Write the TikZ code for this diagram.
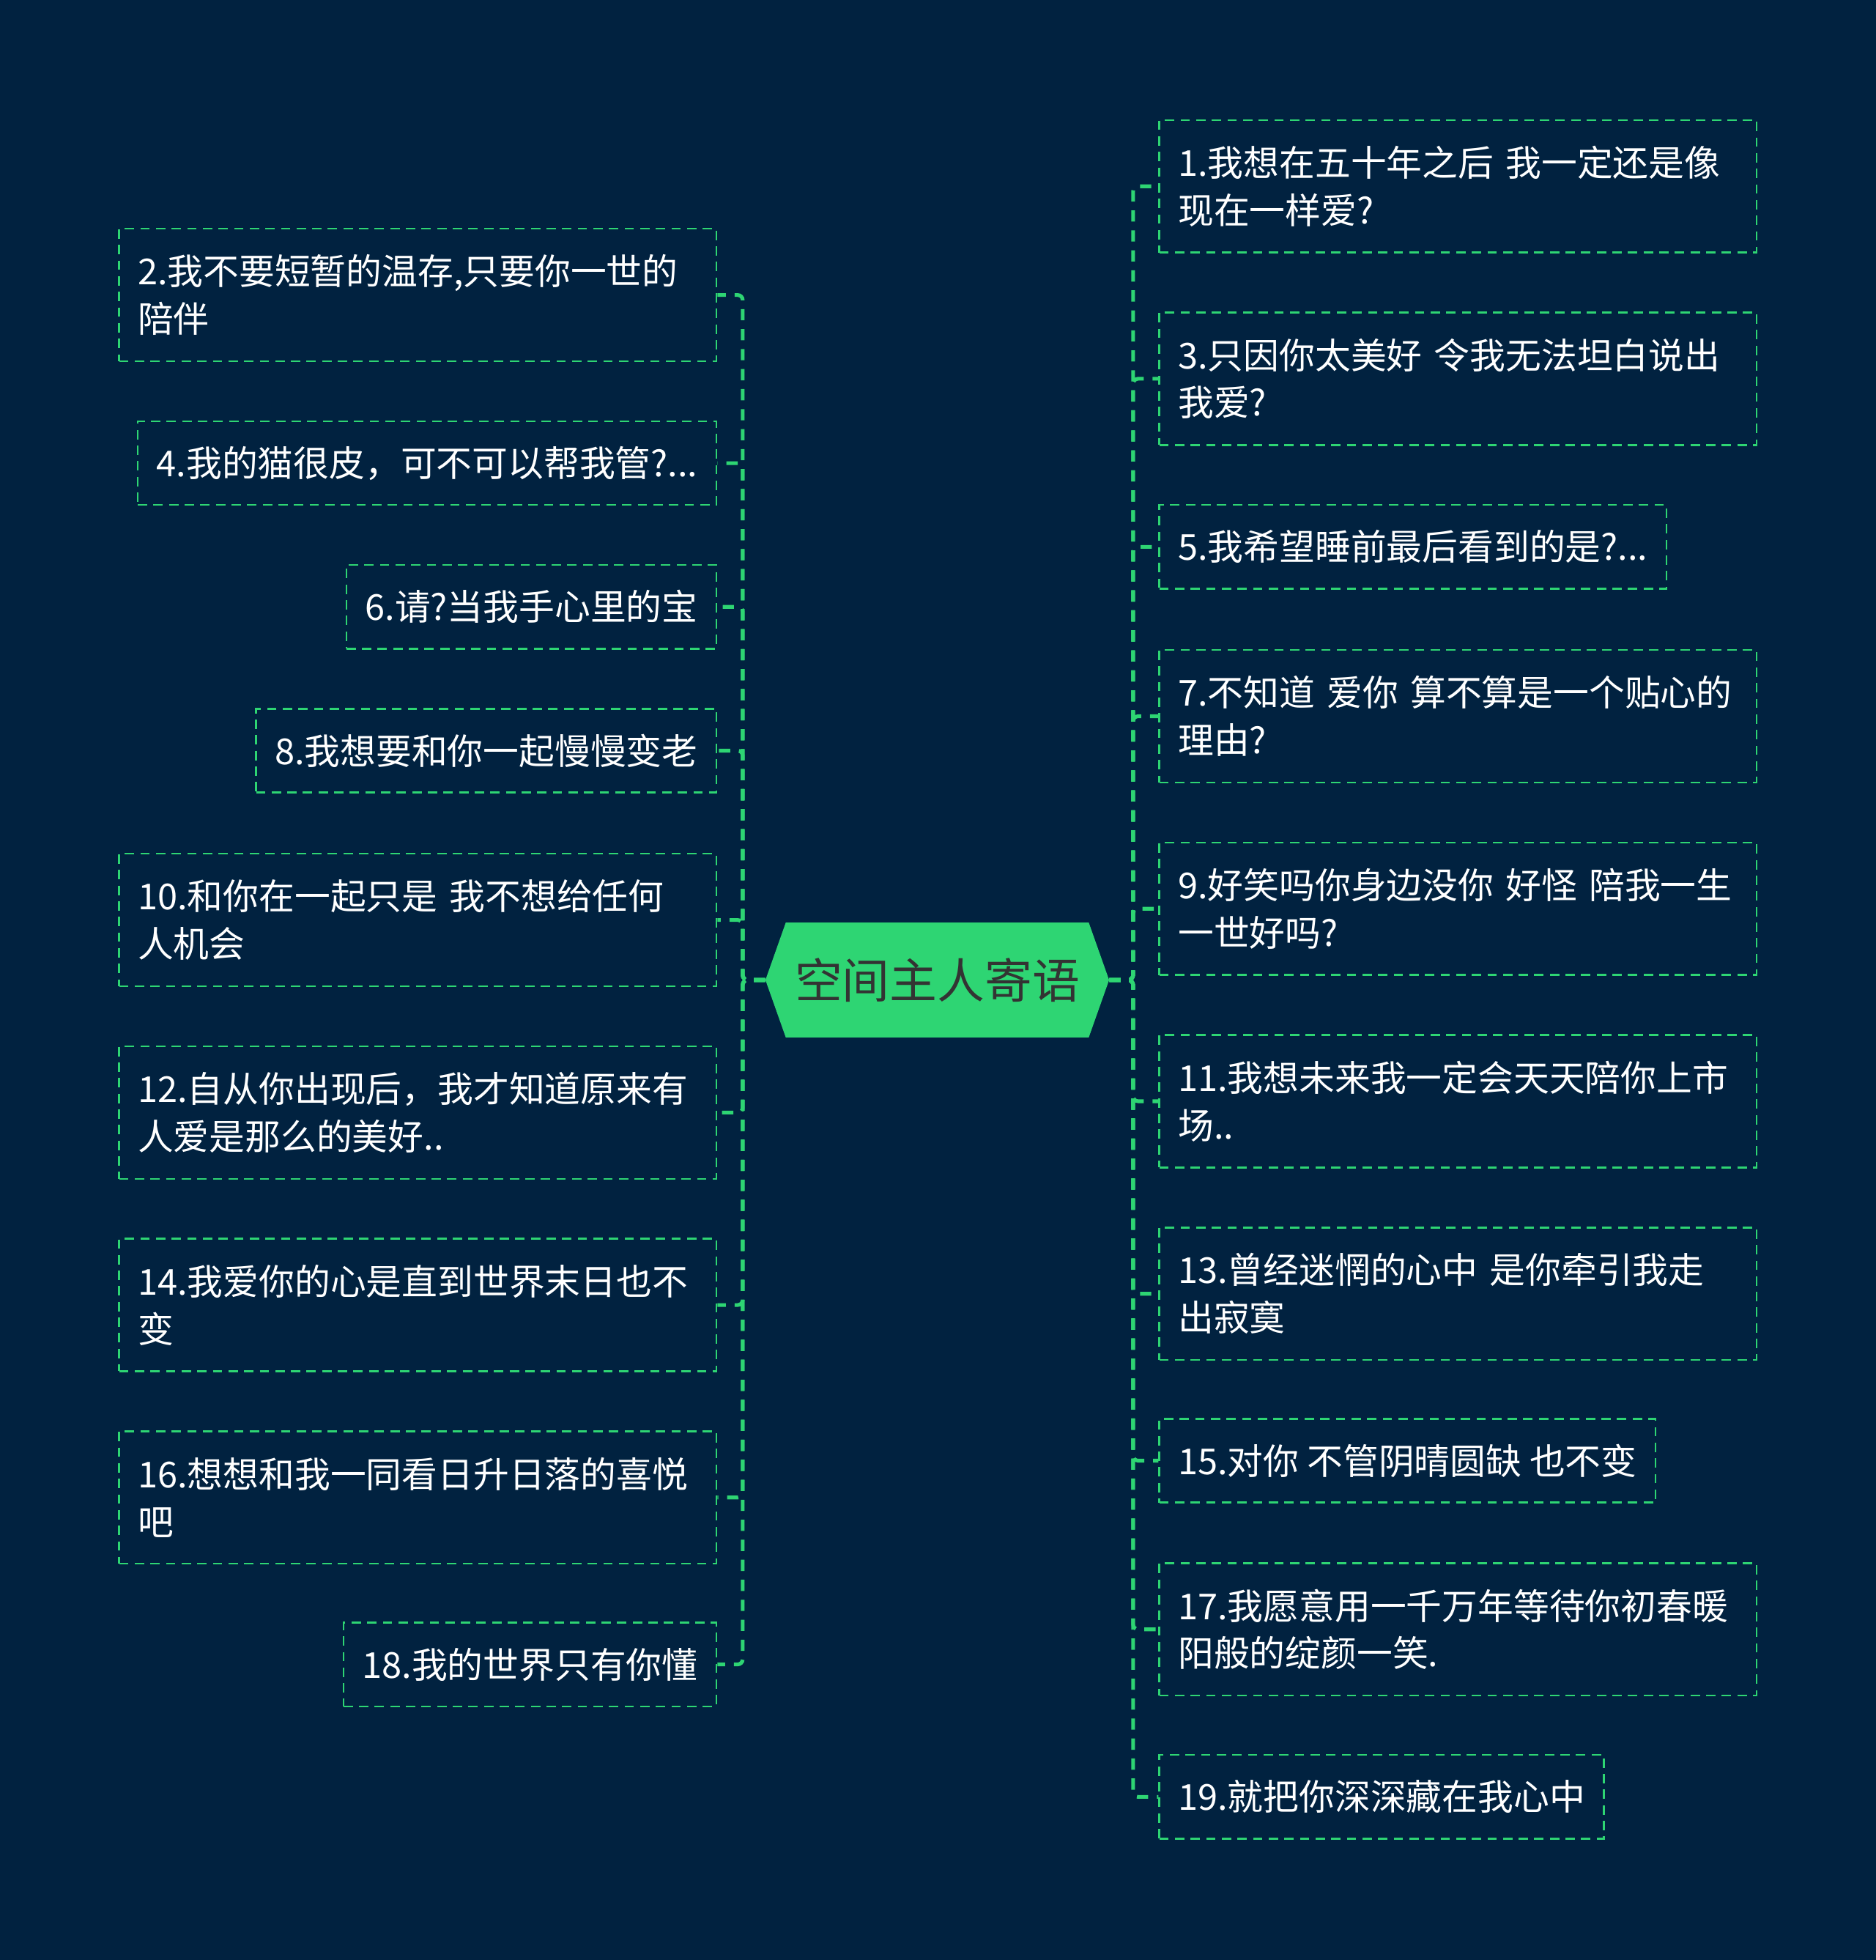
\documentclass[tikz,border=0pt]{standalone}
\usepackage{fontspec}
\setmainfont{Noto Sans CJK SC}
\usetikzlibrary{shapes.symbols}
\definecolor{bgnavy}{HTML}{012240}
\definecolor{leafgreen}{HTML}{2ED573}
\definecolor{rootink}{HTML}{333333}
\tikzset{
  leaf/.style={draw=leafgreen, line width=1.4pt, dash pattern=on 7.5pt off 5pt,
    text=white, font=\fontsize{28.6}{38}\selectfont, inner xsep=15pt, inner ysep=0pt,
    minimum height=67pt},
  twoline/.style={leaf, text width=448pt, align=left, minimum height=106pt},
  root/.style={signal, signal to=west and east, signal pointer angle=141,
    fill=leafgreen, text=rootink, font=\fontsize{38}{44}\selectfont,
    minimum width=275pt, minimum height=92pt, inner sep=0pt},
  link/.style={draw=leafgreen, line width=3pt, dash pattern=on 9pt off 7pt,
    rounded corners=4pt}
}
\begin{document}
\begin{tikzpicture}[x=1pt, y=-1pt]
    \fill[bgnavy] (0,0) rectangle (1501,1568);
    \useasboundingbox (0,0) rectangle (1501,1568);

    \node[root] (root) at (750,784) {空间主人寄语};

    \node[twoline, anchor=east] (l2) at (574,236) {2.我不要短暂的温存,只要你一世的\\陪伴};
    \node[leaf, anchor=east] (l4) at (574,370.5) {4.我的猫很皮，可不可以帮我管?...};
    \node[leaf, anchor=east] (l6) at (574,485.5) {6.请?当我手心里的宝};
    \node[leaf, anchor=east] (l8) at (574,600.5) {8.我想要和你一起慢慢变老};
    \node[twoline, anchor=east] (l10) at (574,736) {10.和你在一起只是 我不想给任何\\人机会};
    \node[twoline, anchor=east] (l12) at (574,890) {12.自从你出现后，我才知道原来有\\人爱是那么的美好..};
    \node[twoline, anchor=east] (l14) at (574,1044) {14.我爱你的心是直到世界末日也不\\变};
    \node[twoline, anchor=east] (l16) at (574,1198) {16.想想和我一同看日升日落的喜悦\\吧};
    \node[leaf, anchor=east] (l18) at (574,1331.5) {18.我的世界只有你懂};

    \node[twoline, anchor=west] (r1) at (927,149) {1.我想在五十年之后 我一定还是像\\现在一样爱?};
    \node[twoline, anchor=west] (r3) at (927,303) {3.只因你太美好 令我无法坦白说出\\我爱?};
    \node[leaf, anchor=west] (r5) at (927,437.5) {5.我希望睡前最后看到的是?...};
    \node[twoline, anchor=west] (r7) at (927,573) {7.不知道 爱你 算不算是一个贴心的\\理由?};
    \node[twoline, anchor=west] (r9) at (927,727) {9.好笑吗你身边没你 好怪 陪我一生\\一世好吗?};
    \node[twoline, anchor=west] (r11) at (927,881) {11.我想未来我一定会天天陪你上市\\场..};
    \node[twoline, anchor=west] (r13) at (927,1035) {13.曾经迷惘的心中 是你牵引我走\\出寂寞};
    \node[leaf, anchor=west] (r15) at (927,1168.5) {15.对你 不管阴晴圆缺 也不变};
    \node[twoline, anchor=west] (r17) at (927,1303.5) {17.我愿意用一千万年等待你初春暖\\阳般的绽颜一笑.};
    \node[leaf, anchor=west] (r19) at (927,1437.5) {19.就把你深深藏在我心中};

    \draw[link] (root.west) -- ++(-18,0) |- (l2.east);
    \draw[link] (root.west) -- ++(-18,0) |- (l4.east);
    \draw[link] (root.west) -- ++(-18,0) |- (l6.east);
    \draw[link] (root.west) -- ++(-18,0) |- (l8.east);
    \draw[link] (root.west) -- ++(-18,0) |- (l10.east);
    \draw[link] (root.west) -- ++(-18,0) |- (l12.east);
    \draw[link] (root.west) -- ++(-18,0) |- (l14.east);
    \draw[link] (root.west) -- ++(-18,0) |- (l16.east);
    \draw[link] (root.west) -- ++(-18,0) |- (l18.east);

    \draw[link] (root.east) -- ++(19,0) |- (r1.west);
    \draw[link] (root.east) -- ++(19,0) |- (r3.west);
    \draw[link] (root.east) -- ++(19,0) |- (r5.west);
    \draw[link] (root.east) -- ++(19,0) |- (r7.west);
    \draw[link] (root.east) -- ++(19,0) |- (r9.west);
    \draw[link] (root.east) -- ++(19,0) |- (r11.west);
    \draw[link] (root.east) -- ++(19,0) |- (r13.west);
    \draw[link] (root.east) -- ++(19,0) |- (r15.west);
    \draw[link] (root.east) -- ++(19,0) |- (r17.west);
    \draw[link] (root.east) -- ++(19,0) |- (r19.west);
  \end{tikzpicture}
\end{document}
